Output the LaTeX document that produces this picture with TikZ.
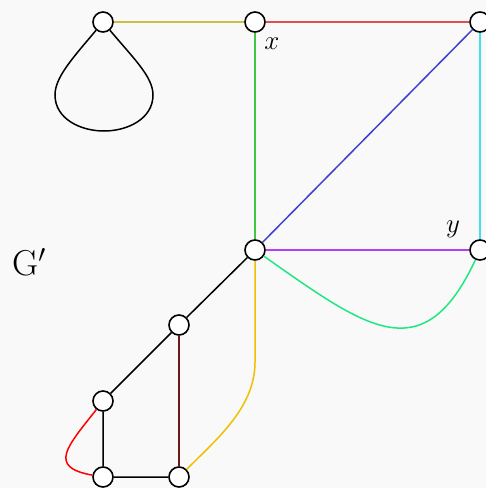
\RequirePackage{fix-cm}
\documentclass[tikz,border=0pt]{standalone}
\usepackage{amsmath,amssymb}
\usepackage{tikz}
\usetikzlibrary{positioning}
\definecolor{bgcol}{HTML}{F9F9F9}
\definecolor{olivec}{HTML}{C8C040}
\definecolor{redc}{HTML}{E05050}
\definecolor{greenc}{HTML}{40C840}
\definecolor{bluec}{HTML}{4040D0}
\definecolor{cyanc}{HTML}{40E0F0}
\definecolor{purplec}{HTML}{B040F0}
\definecolor{springc}{HTML}{20E880}
\definecolor{maroonc}{HTML}{701818}
\definecolor{orangec}{HTML}{F0C000}
\tikzset{
  vtx/.style={circle,draw,fill=white,line width=1.6pt,minimum size=20pt,inner sep=0pt},
  edge/.style={line width=1.5pt},
  lbl/.style={font=\fontsize{27}{29}\selectfont}
}

\begin{document}
\begin{tikzpicture}[x=1pt,y=-1pt]
        \path[fill=bgcol,use as bounding box] (0,0) rectangle (486,488);
        \node[vtx] (A) at (103,22) {};
        \node[vtx] (X) at (255,22) {};
        \node[vtx] (C) at (480,22) {};
        \node[vtx] (M) at (255,250) {};
        \node[vtx] (Y) at (480,250) {};
        \node[vtx] (P) at (179,325) {};
        \node[vtx] (Q) at (103,401) {};
        \node[vtx] (R) at (103,477) {};
        \node[vtx] (S) at (179,477) {};
        % loop at A
        \coordinate (loopL) at (55,95);
        \coordinate (loopB) at (104,131);
        \coordinate (loopR) at (153,95);
        \draw[edge] (A) to[out=230,in=90,out looseness=1.2,in looseness=0.6] (loopL)
            to[out=-90,in=180] (loopB) to[out=0,in=-90] (loopR)
            to[out=90,in=-50,out looseness=0.6,in looseness=1.2] (A);
        \draw[edge,olivec] (A) -- (X);
        \draw[edge,redc] (X) -- (C);
        \draw[edge,greenc] (X) -- (M);
        \draw[edge,bluec] (C) -- (M);
        \draw[edge,cyanc] (C) -- (Y);
        \draw[edge,purplec] (M) -- (Y);
        \draw[edge,springc] (M) to[out=-35,in=-115,looseness=1.5] (Y);
        \coordinate (bend) at (255,362);
        \draw[edge,orangec] (M) -- (bend) to[out=-90,in=45,looseness=0.9] (S);
        \draw[edge] (M) -- (P) -- (Q) -- (R) -- (S);
        \draw[edge,maroonc] (P) -- (S);
        \draw[edge,red] (Q) to[out=232,in=170,looseness=1.8] (R);
        \node[lbl] at (272,44) {$x$};
        \node[lbl] at (453,229) {$y$};
        \node[font=\fontsize{36}{38}\selectfont] at (29,262) {$\mathrm{G}'$};
    \end{tikzpicture}
\end{document}
